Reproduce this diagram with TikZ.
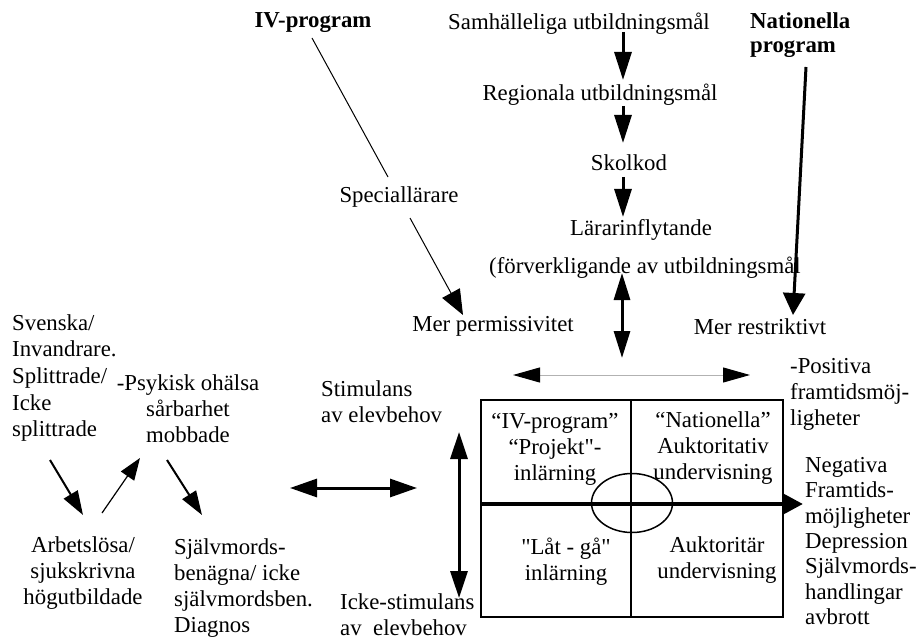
\documentclass[tikz,border=0pt]{standalone}
\usepackage{fontspec}
\setmainfont{Liberation Serif}[Ligatures=TeXOff]
\usetikzlibrary{arrows.meta,shapes.geometric}
\begin{document}
\begin{tikzpicture}[x=1pt,y=-1pt,
  txt/.style={font=\fontsize{22.8}{26}\selectfont, inner sep=0pt},
  bftxt/.style={font=\fontsize{22.8}{24}\selectfont\bfseries, inner sep=0pt},
  chainarr/.style={line width=3pt, -{Triangle[length=28pt,width=17pt]}},
  dblarr/.style={line width=3pt, {Triangle[length=27pt,width=16pt]}-{Triangle[length=27pt,width=16pt]}},
  finearr/.style={line width=1pt, -{Triangle[length=25pt,width=20pt]}},
  smallarr/.style={line width=2pt, -{Triangle[length=24pt,width=16pt]}}
]
\useasboundingbox (0,0) rectangle (921,639);

% --- top chain
\node[txt] (samh) at (579,24) {Samhälleliga utbildningsmål};
\node[txt] (reg) at (600,95) {Regionala utbildningsmål};
\node[txt] (skol) at (629,163) {Skolkod};
\node[txt] (larar) at (641,230) {Lärarinflytande};
\node[txt] (forv) at (645,268) {(förverkligande av utbildningsmål};

\coordinate (c1a) at (623,32);  \coordinate (c1b) at (623,80);
\coordinate (c2a) at (623,106); \coordinate (c2b) at (623,143);
\coordinate (c3a) at (623,177); \coordinate (c3b) at (623,217);
\draw[chainarr] (c1a) -- (c1b);
\draw[chainarr] (c2a) -- (c2b);
\draw[chainarr] (c3a) -- (c3b);

\coordinate (v1a) at (622,273); \coordinate (v1b) at (622,358);
\draw[dblarr] (v1a) -- (v1b);

% --- IV program side
\node[bftxt] (iv) at (313,23) {IV-program};
\node[txt] (spec) at (399,197) {Speciallärare};
\node[txt] (perm) at (493,326) {Mer permissivitet};
\coordinate (iva) at (312,38); \coordinate (ivb) at (388,177);
\draw[line width=1pt] (iva) -- (ivb);
\coordinate (spa) at (410,218); \coordinate (spb) at (463,315);
\draw[finearr] (spa) -- (spb);

% --- Nationella side
\node[bftxt, align=left, anchor=west] (nat) at (750,35) {Nationella\\program};
\node[txt] (restr) at (760,327) {Mer restriktivt};
\coordinate (nta) at (806,67); \coordinate (ntb) at (793,315);
\draw[line width=3pt, -{Triangle[length=22pt,width=22pt]}] (nta) -- (ntb);

% --- thin horizontal arrow
\coordinate (ha) at (513,375); \coordinate (hb) at (750,375);
\draw[line width=1pt, gray!60, {Triangle[length=27pt,width=15pt,color=black]}-{Triangle[length=27pt,width=15pt,color=black]}] (ha) -- (hb);

\node[txt, align=left, anchor=west] (pos) at (790,394) {-Positiva\\framtidsmöj-\\ligheter};

% --- box
\node[draw, line width=1.5pt, minimum width=302pt, minimum height=217pt, inner sep=0pt] (box) at (632,508.5) {};
\coordinate (vt) at (631,400); \coordinate (vb) at (631,617);
\draw[line width=2.5pt] (vt) -- (vb);
\node[draw, line width=1.5pt, ellipse, minimum width=81pt, minimum height=59pt, inner sep=0pt] (ring) at (632,503) {};
\coordinate (hl) at (481,504); \coordinate (hr) at (803,504);
\draw[line width=4.5pt, -{Triangle[length=20pt,width=20pt]}] (hl) -- (hr);

\node[txt, align=center] (q1) at (555,449) {“IV-program”\\“Projekt"-\\inlärning};
\node[txt, align=center] (q2) at (713,448) {“Nationella”\\Auktoritativ\\undervisning};
\node[txt, align=center] (q3) at (566,562) {"Låt - gå"\\inlärning};
\node[txt, align=center] (q4) at (717,560) {Auktoritär\\undervisning};

\node[txt, align=left, anchor=west, font=\fontsize{22.8}{25.3}\selectfont] (neg) at (805,541) {Negativa\\Framtids-\\möjligheter\\Depression\\Självmords-\\handlingar\\avbrott};

% --- stimulans
\node[txt, align=left, anchor=west] (stim) at (321,402) {Stimulans\\av elevbehov};
\node[txt, align=left, anchor=west] (istim) at (340,615) {Icke-stimulans\\av \ elevbehov};
\coordinate (s1a) at (459,432); \coordinate (s1b) at (459,598);
\draw[line width=3pt, {Triangle[length=27pt,width=17pt]}-{Triangle[length=27pt,width=17pt]}] (s1a) -- (s1b);
\coordinate (la) at (290,488); \coordinate (lb) at (417,488);
\draw[line width=3pt, {Triangle[length=27pt,width=18pt]}-{Triangle[length=27pt,width=18pt]}] (la) -- (lb);

% --- left side
\node[txt, align=left, anchor=west, font=\fontsize{22.8}{26.7}\selectfont] (sv) at (12,378) {Svenska/\\Invandrare.\\Splittrade/\\Icke\\splittrade};
\node[txt, align=center] (psy) at (188,409) {-Psykisk ohälsa\\sårbarhet\\mobbade};
\node[txt, align=center] (arb) at (83,573) {Arbetslösa/\\sjukskrivna\\högutbildade};
\node[txt, align=left, anchor=west] (sjm) at (174,588) {Självmords-\\benägna/ icke\\självmordsben.\\Diagnos};

\coordinate (a1a) at (50,460);  \coordinate (a1b) at (83,515);
\coordinate (a2a) at (102,513); \coordinate (a2b) at (140,458);
\coordinate (a3a) at (167,460); \coordinate (a3b) at (202,515);
\draw[smallarr] (a1a) -- (a1b);
\draw[line width=1.2pt, -{Triangle[length=22pt,width=16pt]}] (a2a) -- (a2b);
\draw[smallarr] (a3a) -- (a3b);
\end{tikzpicture}
\end{document}
